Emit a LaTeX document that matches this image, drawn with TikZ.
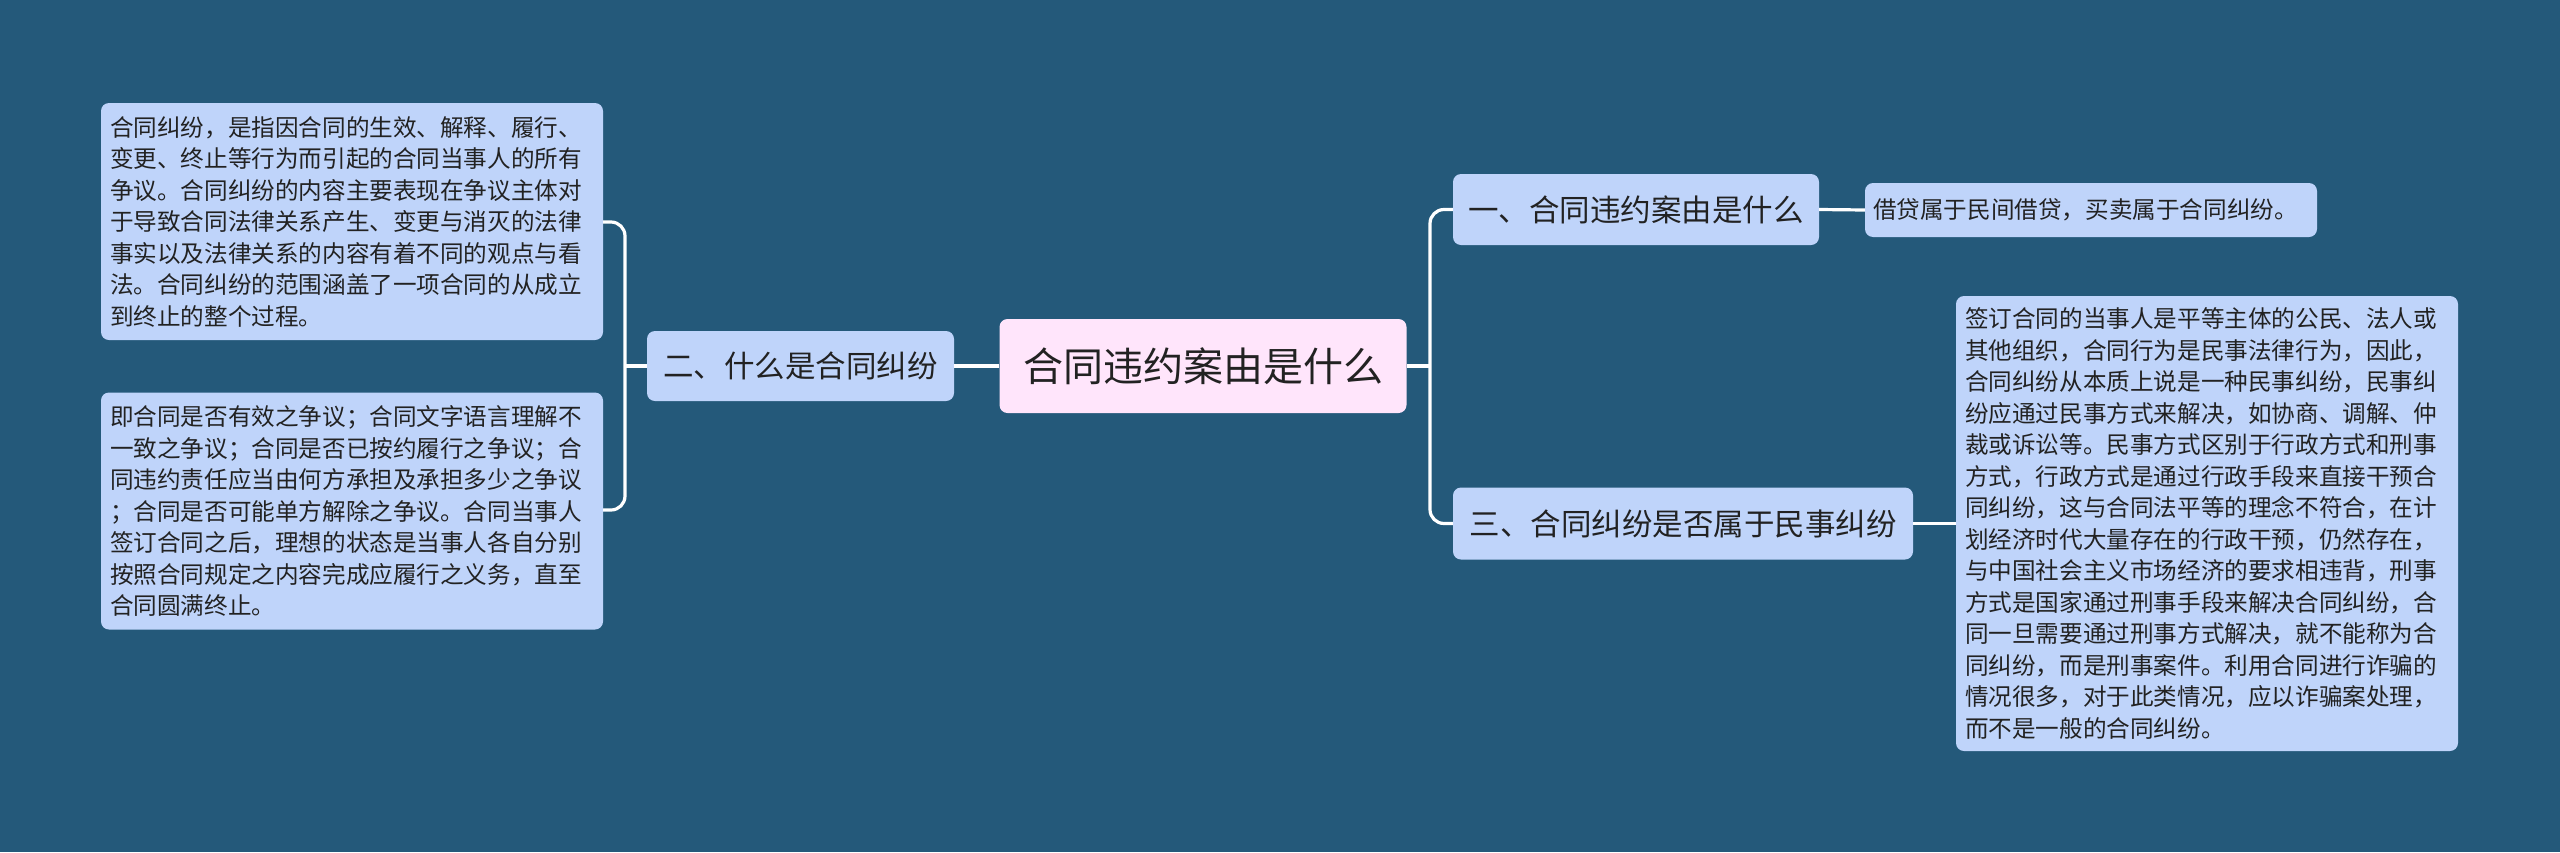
\documentclass[tikz,border=0pt]{standalone}
\usepackage{fontspec}
\setmainfont{Noto Sans CJK SC}
\definecolor{bgc}{RGB}{36,89,122}
\definecolor{nodec}{RGB}{191,212,250}
\definecolor{rootc}{RGB}{255,229,251}
\definecolor{txtc}{RGB}{34,34,34}
\tikzset{
  box/.style={draw=none, fill=nodec, rounded corners=8pt, text=txtc, inner sep=0pt, anchor=center},
  rootbox/.style={box, fill=rootc, font=\fontsize{40}{46}\selectfont},
  midbox/.style={box, font=\fontsize{30.5}{36}\selectfont},
  leafbox/.style={box, align=left, font=\fontsize{23.6}{31.5}\selectfont},
  conn/.style={draw=white, line width=3.2pt, rounded corners=14pt}
}
\begin{document}
\begin{tikzpicture}[x=1pt,y=-1pt]
\fill[bgc] (0,0) rectangle (2560,852);
\useasboundingbox (0,0) rectangle (2560,852);

\node[rootbox, minimum width=407pt, minimum height=94pt] (root) at (1203,366) {合同违约案由是什么};

\node[midbox, minimum width=307pt, minimum height=70pt] (n2) at (800.5,366) {二、什么是合同纠纷};
\node[midbox, minimum width=366pt, minimum height=71pt] (n1) at (1636,209.5) {一、合同违约案由是什么};
\node[midbox, minimum width=460pt, minimum height=72pt] (n3) at (1683,523.5) {三、合同纠纷是否属于民事纠纷};

\node[leafbox, minimum width=502pt, minimum height=237pt, text width=484pt] (l1) at (352,221.5) {合同纠纷，是指因合同的生效、解释、履行、\\变更、终止等行为而引起的合同当事人的所有\\争议。合同纠纷的内容主要表现在争议主体对\\于导致合同法律关系产生、变更与消灭的法律\\事实以及法律关系的内容有着不同的观点与看\\法。合同纠纷的范围涵盖了一项合同的从成立\\到终止的整个过程。};

\node[leafbox, minimum width=502pt, minimum height=237pt, text width=484pt] (l2) at (352,511) {即合同是否有效之争议；合同文字语言理解不\\一致之争议；合同是否已按约履行之争议；合\\同违约责任应当由何方承担及承担多少之争议\\；合同是否可能单方解除之争议。合同当事人\\签订合同之后，理想的状态是当事人各自分别\\按照合同规定之内容完成应履行之义务，直至\\合同圆满终止。};

\node[leafbox, minimum width=452pt, minimum height=54pt, text width=436pt] (r1) at (2091,210) {借贷属于民间借贷，买卖属于合同纠纷。};

\node[leafbox, minimum width=502pt, minimum height=455pt, text width=484pt] (r3) at (2207,523.5) {签订合同的当事人是平等主体的公民、法人或\\其他组织，合同行为是民事法律行为，因此，\\合同纠纷从本质上说是一种民事纠纷，民事纠\\纷应通过民事方式来解决，如协商、调解、仲\\裁或诉讼等。民事方式区别于行政方式和刑事\\方式，行政方式是通过行政手段来直接干预合\\同纠纷，这与合同法平等的理念不符合，在计\\划经济时代大量存在的行政干预，仍然存在，\\与中国社会主义市场经济的要求相违背，刑事\\方式是国家通过刑事手段来解决合同纠纷，合\\同一旦需要通过刑事方式解决，就不能称为合\\同纠纷，而是刑事案件。利用合同进行诈骗的\\情况很多，对于此类情况，应以诈骗案处理，\\而不是一般的合同纠纷。};

\coordinate (lj) at (625,366);
\coordinate (rj) at (1430,366);

\draw[conn] (root.west) -- (n2.east);
\draw[conn] (n2.west) -- (lj);
\draw[conn] (l1.east |- 0,222) -- (lj |- 0,222) -- (lj |- 0,510) -- (l2.east |- 0,510);
\draw[conn] (root.east) -- (rj);
\draw[conn] (n1.west) -- (rj |- n1.west) -- (rj |- n3.west) -- (n3.west);
\draw[conn] (n1.east) -- (r1.west);
\draw[conn] (n3.east) -- (r3.west |- n3.east);
\end{tikzpicture}
\end{document}
